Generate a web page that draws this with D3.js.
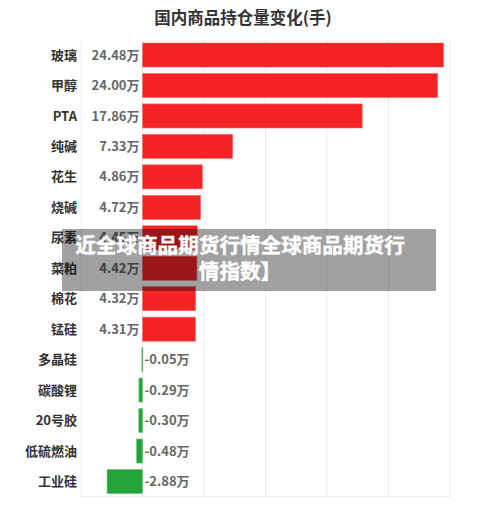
<!DOCTYPE html>
<html><head><meta charset="utf-8">
<script src="https://cdn.jsdelivr.net/npm/d3@7"></script>
<style>body{margin:0;background:#fff;} text{font-family:"Noto Sans CJK SC","Noto Sans",sans-serif;}</style>
</head><body><svg id="c" width="500" height="521"></svg>
<script>
const categories = ["玻璃","甲醇","PTA","纯碱","花生","烧碱","尿素","菜粕","棉花","锰硅","多晶硅","碳酸锂","20号胶","低硫燃油","工业硅"];
const values = [24.48,24.00,17.86,7.33,4.86,4.72,4.45,4.42,4.32,4.31,-0.05,-0.29,-0.30,-0.48,-2.88];
const tickValues = [-5,0,5,10,15,20,25];
const title = "国内商品持仓量变化(手)";
const overlayLines = ["近全球商品期货行情全球商品期货行","情指数】"];

const svg = d3.select("#c");
const L = 81, R = 450, T = 39.8, B = 496.7;
const x = d3.scaleLinear().domain([-5,25]).range([L,R]);
const y = d3.scaleBand().domain(categories).range([T,B]).paddingInner(0.21).paddingOuter(0.105);

svg.append("text").attr("x",243).attr("y",24).attr("text-anchor","middle")
  .attr("font-size",16.5).attr("font-weight","bold").attr("fill","#333").text(title);

// grid
svg.append("g").selectAll("line").data(tickValues).join("line")
  .attr("x1",d=>x(d)).attr("x2",d=>x(d)).attr("y1",T).attr("y2",B)
  .attr("stroke","#ececec").attr("stroke-width",1);
svg.append("line").attr("x1",L).attr("x2",R).attr("y1",B).attr("y2",B).attr("stroke","#ececec");

// bars
svg.append("g").selectAll("rect").data(values).join("rect")
  .attr("x",d=>x(Math.min(0,d))).attr("width",d=>Math.max(1,Math.abs(x(d)-x(0))))
  .attr("y",(d,i)=>y(categories[i])).attr("height",y.bandwidth())
  .attr("fill",d=>d>=0?"#f52323":"#22a43a")
  .attr("stroke",d=>d>=0?"#f76b6b":"#6cc27d").attr("stroke-width",0.6);

// category labels
svg.append("g").selectAll("text").data(categories).join("text")
  .attr("x",77).attr("y",d=>y(d)+y.bandwidth()/2).attr("dy","0.35em")
  .attr("text-anchor","end").attr("font-size",13).attr("font-weight","bold").attr("fill","#333").text(d=>d);

// value labels
svg.append("g").selectAll("text").data(values).join("text")
  .attr("x",d=>d>=0?x(0)-3:x(0)+2).attr("y",(d,i)=>y(categories[i])+y.bandwidth()/2).attr("dy","0.35em")
  .attr("text-anchor",d=>d>=0?"end":"start").attr("font-size",13).attr("font-weight","bold").attr("fill","#666")
  .text(d=>d.toFixed(2)+"万");

// overlay
svg.append("rect").attr("x",62).attr("y",229).attr("width",374).attr("height",62)
  .attr("fill","#000").attr("opacity",0.37);
svg.append("g").selectAll("text").data(overlayLines).join("text")
  .attr("x",240).attr("y",(d,i)=>253+i*26).attr("text-anchor","middle")
  .attr("font-size",20.6).attr("font-weight","bold").attr("fill","#fff")
  .attr("stroke","#fff").attr("stroke-width",0.4).text(d=>d);
</script></body></html>
